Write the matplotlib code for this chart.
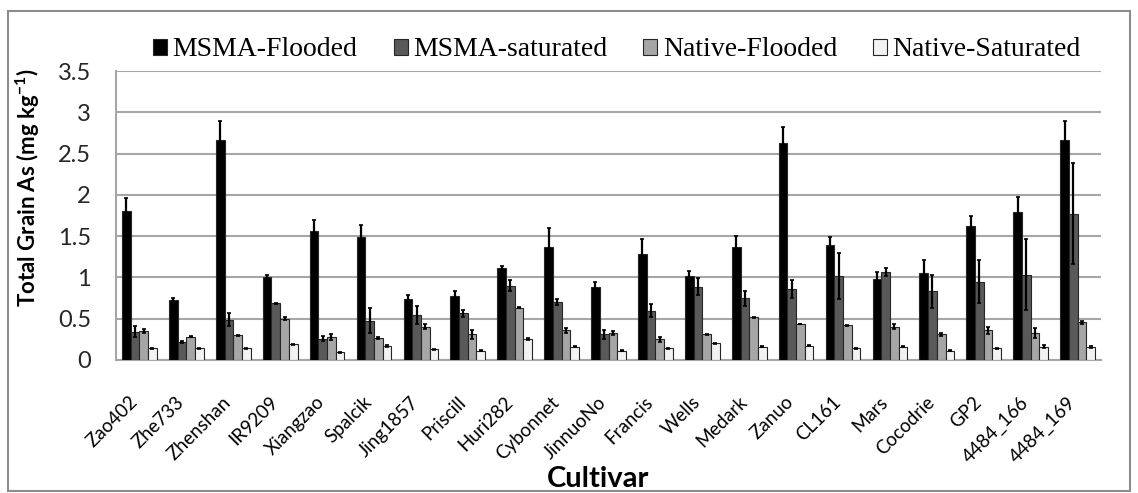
import numpy as np
import matplotlib
matplotlib.use("Agg")
import matplotlib.pyplot as plt
import matplotlib.transforms as mtrans
from matplotlib.patches import Rectangle

# datos
cultivares = ["Zao402", "Zhe733", "Zhenshan", "IR9209", "Xiangzao", "Spalcik",
              "Jing1857", "Priscill", "Huri282", "Cybonnet", "JinnuoNo", "Francis",
              "Wells", "Medark", "Zanuo", "CL161", "Mars", "Cocodrie", "GP2",
              "4484_166", "4484_169"]
series = ["MSMA-Flooded", "MSMA-saturated", "Native-Flooded", "Native-Saturated"]

msma_flood = [1.81, 0.725, 2.66, 1.00, 1.56, 1.49, 0.74, 0.78, 1.11, 1.37, 0.88,
              1.28, 1.02, 1.37, 2.63, 1.39, 0.98, 1.05, 1.62, 1.79, 2.66]
msma_flood_err = [0.15, 0.025, 0.23, 0.03, 0.14, 0.15, 0.045, 0.05, 0.03, 0.23, 0.07,
                  0.19, 0.06, 0.13, 0.19, 0.10, 0.09, 0.165, 0.13, 0.19, 0.23]
msma_sat = [0.345, 0.215, 0.49, 0.685, 0.255, 0.475, 0.55, 0.565, 0.90, 0.705, 0.31,
            0.595, 0.89, 0.75, 0.86, 1.02, 1.07, 0.83, 0.95, 1.03, 1.77]
msma_sat_err = [0.07, 0.01, 0.08, 0.01, 0.03, 0.15, 0.11, 0.045, 0.065, 0.035, 0.05,
                0.08, 0.10, 0.09, 0.11, 0.28, 0.05, 0.20, 0.26, 0.43, 0.61]
native_flood = [0.35, 0.28, 0.30, 0.50, 0.28, 0.27, 0.405, 0.31, 0.635, 0.36, 0.325,
                0.25, 0.31, 0.515, 0.435, 0.42, 0.405, 0.31, 0.36, 0.33, 0.455]
native_flood_err = [0.02, 0.005, 0.005, 0.02, 0.035, 0.01, 0.03, 0.05, 0.005, 0.03, 0.025,
                    0.03, 0.005, 0.005, 0.005, 0.005, 0.025, 0.02, 0.045, 0.06, 0.02]
native_sat = [0.14, 0.14, 0.14, 0.19, 0.095, 0.17, 0.13, 0.115, 0.255, 0.16, 0.115,
              0.14, 0.20, 0.16, 0.175, 0.14, 0.16, 0.115, 0.14, 0.16, 0.16]
native_sat_err = [0.01, 0.005, 0.005, 0.005, 0.005, 0.01, 0.005, 0.01, 0.01, 0.005, 0.005,
                  0.005, 0.01, 0.005, 0.005, 0.005, 0.005, 0.01, 0.005, 0.02, 0.01]

valores = [msma_flood, msma_sat, native_flood, native_sat]
errores = [msma_flood_err, msma_sat_err, native_flood_err, native_sat_err]
colores = ["#000000", "#595959", "#a6a6a6", "#f2f2f2"]

plt.rcParams["mathtext.fontset"] = "custom"
plt.rcParams["mathtext.rm"] = "Lato:bold"
plt.rcParams["mathtext.bf"] = "Lato:bold"
plt.rcParams["mathtext.it"] = "Lato:bold"

fig = plt.figure(figsize=(11.38, 4.93), dpi=100)
ax = fig.add_axes([116 / 1138, 1 - 360 / 493, (1101 - 116) / 1138, (360 - 71) / 493])

# borde gris de la figura
fig.patches.append(Rectangle((8 / 1138, 1 - 491 / 493), (1130 - 8) / 1138, (491 - 11) / 493,
                             transform=fig.transFigure, fill=False,
                             edgecolor="#8c8c8c", linewidth=1.5))

x = np.arange(len(cultivares))
w = 0.185
for i in range(4):
    pos = x + (i - 1.5) * w
    ax.bar(pos, valores[i], w, color=colores[i], edgecolor="#262626",
           linewidth=0.8, label=series[i], zorder=3)
    ax.errorbar(pos, valores[i], yerr=errores[i], fmt="none", ecolor="black",
                elinewidth=1.6, capsize=1.5, capthick=1.2, zorder=4)

ax.set_xlim(-0.5, len(cultivares) - 0.5)
ax.set_ylim(0, 3.5)
yt = np.arange(0, 3.51, 0.5)
ax.set_yticks(yt)
ax.set_yticklabels(["0", "0.5", "1", "1.5", "2", "2.5", "3", "3.5"],
                   fontsize=17, family="Lato", color="#262626")
ax.tick_params(axis="y", length=0, pad=18)
ax.set_xticks(x)
ax.set_xticklabels(cultivares, rotation=45, ha="right", rotation_mode="anchor",
                   fontsize=13.5, family="Lato")
ax.tick_params(axis="x", length=0, pad=24)
# etiquetas un poco a la izquierda, como en la original
desplazar = mtrans.ScaledTranslation(-8 / 72, 0, fig.dpi_scale_trans)
for lab in ax.get_xticklabels():
    lab.set_transform(lab.get_transform() + desplazar)
ax.grid(axis="y", color="#a6a6a6", linewidth=1.5, zorder=0)
ax.set_axisbelow(True)
for s in ["top", "right"]:
    ax.spines[s].set_visible(False)
for s in ["left", "bottom"]:
    ax.spines[s].set_color("#a6a6a6")
    ax.spines[s].set_linewidth(1.5)

fig.text(28 / 1138, 1 - 188 / 493, "Total Grain As (mg kg$^{-1}$)", fontsize=16,
         family="Lato", fontweight="bold", rotation=90, ha="center", va="center")
fig.text(598 / 1138, 1 - 479 / 493, "Cultivar", fontsize=21, family="Lato",
         fontweight="bold", ha="center", va="center")

fig.legend(loc="center", bbox_to_anchor=(617 / 1138, 1 - 50 / 493), ncol=4,
           frameon=False, prop={"family": "Liberation Serif", "size": 20},
           handlelength=0.5, handleheight=0.5, handletextpad=0.2,
           columnspacing=1.3)

fig.savefig("out.png", dpi=100)
